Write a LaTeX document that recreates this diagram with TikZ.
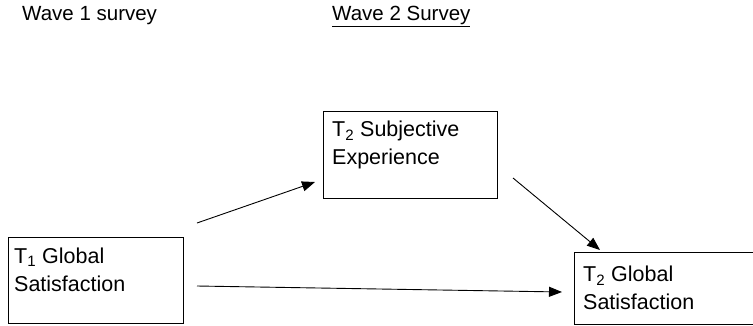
\documentclass[tikz,border=0pt]{standalone}
\usepackage{fontspec}
\setmainfont{Liberation Sans}
\usetikzlibrary{arrows.meta}
\tikzset{
  varbox/.style={draw,line width=1.2pt,anchor=north west,inner sep=0pt},
  varlabel/.style={anchor=north west,align=left,font=\fontsize{21.5}{28}\selectfont,inner sep=0pt},
  wavehead/.style={anchor=north west,font=\fontsize{20.5}{22}\selectfont,inner sep=0pt},
  path/.style={line width=0.9pt,-{Triangle[length=13pt,width=10pt]}}
}
\begin{document}
\begin{tikzpicture}[x=1pt,y=-1pt]
  \useasboundingbox (0,0) rectangle (753,325);
  % survey headings
  \node[wavehead] (waveone) at (22,6) {Wave 1 survey};
  \node[wavehead] (wavetwo) at (332,6) {\underline{Wave 2 Survey}};
  % boxes
  \node[varbox,minimum width=175pt,minimum height=86pt] (globone) at (8,237) {};
  \node[varbox,minimum width=174pt,minimum height=87pt] (subjtwo) at (323,111) {};
  \node[varbox,minimum width=190pt,minimum height=72pt] (globtwo) at (574,252) {};
  \node[varlabel] (globonetext) at (14,248) {T\textsubscript{1} Global\\Satisfaction};
  \node[varlabel] (subjtwotext) at (332,121) {T\textsubscript{2} Subjective\\Experience};
  \node[varlabel] (globtwotext) at (583,266) {T\textsubscript{2} Global\\Satisfaction};
  % paths
  \coordinate (aa) at (197,223);
  \coordinate (ab) at (315,182);
  \coordinate (ba) at (513,178);
  \coordinate (bb) at (600,250);
  \coordinate (ca) at (197,286);
  \coordinate (cb) at (562,292);
  \draw[path] (aa) -- (ab);
  \draw[path] (ba) -- (bb);
  \draw[path] (ca) -- (cb);
\end{tikzpicture}
\end{document}
